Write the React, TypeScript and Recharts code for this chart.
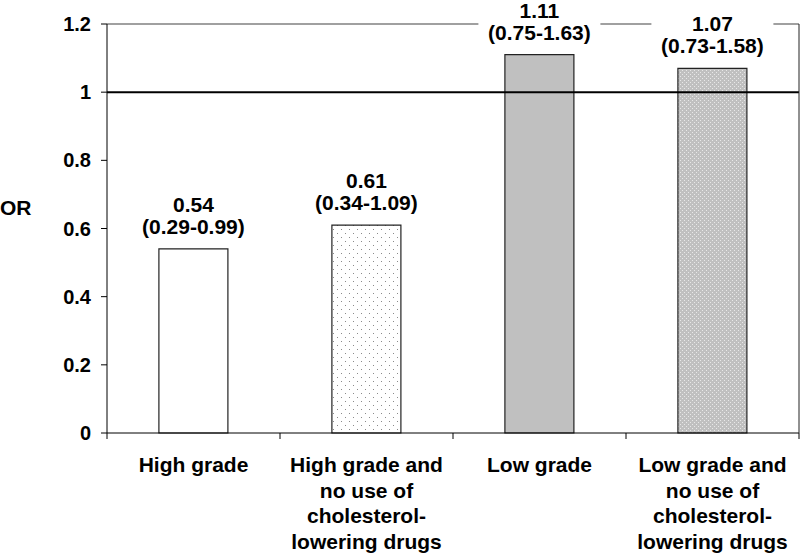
import React from 'react';
import { BarChart, Bar, XAxis, YAxis, ReferenceLine, LabelList, Cell } from 'recharts';

// values
const categories = [
  'High grade',
  'High grade and\nno use of\ncholesterol-\nlowering drugs',
  'Low grade',
  'Low grade and\nno use of\ncholesterol-\nlowering drugs',
];
const oddsRatios = [0.54, 0.61, 1.11, 1.07];
const ciLower = [0.29, 0.34, 0.75, 0.73];
const ciUpper = [0.99, 1.09, 1.63, 1.58];
const yTicks = [0, 0.2, 0.4, 0.6, 0.8, 1, 1.2];

const data = categories.map((name, i) => ({
  name,
  or: oddsRatios[i],
  lo: ciLower[i],
  hi: ciUpper[i],
}));

const W = 800;
const H = 557;
const LEFT_W = 107;
const RIGHT_W = 1;
const X_AXIS_H = 124;
const AXIS_Y = H - X_AXIS_H;
const BAND = (W - LEFT_W - RIGHT_W) / categories.length;
const FONT = 'Arial, "Liberation Sans", sans-serif';

const fills = ['#ffffff', 'url(#dotsWhite)', '#c0c0c0', 'url(#dotsGray)'];

const XTick = (props: any) => {
  const { x, payload, index } = props;
  const lines = String(payload.value).split('\n');
  return (
    <g>
      <line x1={x - BAND / 2} x2={x - BAND / 2} y1={AXIS_Y} y2={AXIS_Y + 6} stroke="#000" />
      {index === categories.length - 1 && (
        <line x1={x + BAND / 2} x2={x + BAND / 2} y1={AXIS_Y} y2={AXIS_Y + 6} stroke="#000" />
      )}
      <text textAnchor="middle" fontFamily={FONT} fontWeight="bold" fontSize={21} fill="#000">
        {lines.map((l, i) => (
          <tspan key={i} x={x} y={AXIS_Y + 39 + i * 25.7}>
            {l}
          </tspan>
        ))}
      </text>
    </g>
  );
};

const BarLabel = (props: any) => {
  const { x, y, width, index } = props;
  const cx = x + width / 2;
  const d = data[index];
  return (
    <g>
      <rect x={cx - 61} y={y - 58} width={122} height={52} fill="#fff" />
      <text textAnchor="middle" fontFamily={FONT} fontWeight="bold" fontSize={21} fill="#000">
        <tspan x={cx} y={y - 37}>{d.or.toFixed(2)}</tspan>
        <tspan x={cx} y={y - 15}>{`(${d.lo.toFixed(2)}-${d.hi.toFixed(2)})`}</tspan>
      </text>
    </g>
  );
};

export default function App() {
  return (
    <div style={{ width: W, height: H }}>
      <style>{'body{margin:0}'}</style>
      <BarChart
        width={W}
        height={H}
        data={data}
        margin={{ top: 24, right: 0, bottom: 0, left: 0 }}
        barCategoryGap="30%"
      >
        <defs>
          <pattern id="dotsWhite" width="8" height="8" patternUnits="userSpaceOnUse">
            <rect width="8" height="8" fill="#fff" />
            <rect x="1" y="1" width="1" height="1" fill="#8a8a8a" />
            <rect x="5" y="5" width="1" height="1" fill="#8a8a8a" />
          </pattern>
          <pattern id="dotsGray" width="4" height="4" patternUnits="userSpaceOnUse">
            <rect width="4" height="4" fill="#c0c0c0" />
            <rect x="0" y="0" width="1" height="1" fill="#e8e8e8" />
            <rect x="2" y="2" width="1" height="1" fill="#e8e8e8" />
          </pattern>
        </defs>
        <ReferenceLine y={1.2} stroke="#808080" strokeWidth={1.5} />
        <XAxis
          dataKey="name"
          height={X_AXIS_H}
          interval={0}
          tickLine={false}
          axisLine={{ stroke: '#000' }}
          tick={<XTick />}
        />
        <YAxis
          width={LEFT_W}
          domain={[0, 1.2]}
          ticks={yTicks}
          tickSize={6}
          tickMargin={10}
          axisLine={{ stroke: '#000' }}
          tickLine={{ stroke: '#000' }}
          tick={{ fill: '#000', fontFamily: FONT, fontWeight: 'bold', fontSize: 20 }}
          label={{
            value: 'OR',
            position: 'insideLeft',
            offset: 0,
            dy: -21,
            style: { fill: '#000', fontFamily: FONT, fontWeight: 'bold', fontSize: 21 },
          }}
        />
        <YAxis
          yAxisId="right"
          orientation="right"
          width={RIGHT_W}
          domain={[0, 1.2]}
          tick={false}
          tickLine={false}
          axisLine={{ stroke: '#222' }}
        />
        <Bar dataKey="or" stroke="#222" strokeWidth={1.2} isAnimationActive={false}>
          {data.map((_, i) => (
            <Cell key={i} fill={fills[i]} />
          ))}
          <LabelList dataKey="or" content={<BarLabel />} />
        </Bar>
        <ReferenceLine y={1} stroke="#000" strokeWidth={2} />
      </BarChart>
    </div>
  );
}
